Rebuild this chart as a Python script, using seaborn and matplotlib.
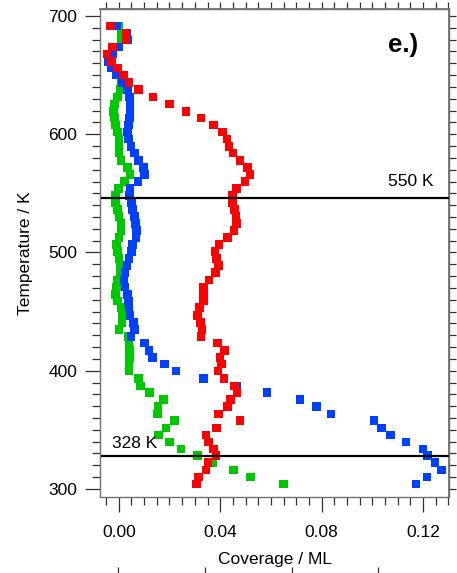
import matplotlib
matplotlib.use("Agg")
import matplotlib.pyplot as plt
import numpy as np
import pandas as pd
import seaborn as sns
from matplotlib.ticker import MultipleLocator, NullFormatter

# ---------------- data ----------------
temperature_K = [691.6, 685.6, 679.5, 673.8, 667.7, 661.4, 655.9, 650.0, 643.7, 637.6,
                 631.6, 625.5, 619.3, 613.7, 607.8, 601.9, 596.0, 589.7, 584.1, 577.9,
                 572.0, 566.1, 560.2, 554.0, 548.4, 542.4, 536.3, 530.4, 524.5, 518.6,
                 512.7, 506.8, 500.6, 494.7, 488.8, 482.9, 476.6, 470.7, 464.5, 458.9,
                 453.3, 446.8, 440.9, 435.0, 429.1, 423.5, 417.0, 411.1, 405.5, 399.6,
                 393.4, 387.2, 381.6, 375.7, 369.5, 363.5, 357.9, 351.7, 345.6, 339.7,
                 333.8, 328.1, 322.2, 316.0, 310.1, 304.2]

coverage_red = [-0.0032, 0.0028, 0.0028, -0.0025, -0.0047, -0.0028, -0.0004, 0.0018, 0.0041, 0.0077,
                0.0135, 0.0200, 0.0265, 0.0324, 0.0373, 0.0408, 0.0426, 0.0435, 0.0450, 0.0478,
                0.0507, 0.0517, 0.0497, 0.0465, 0.0449, 0.0449, 0.0456, 0.0462, 0.0465, 0.0454,
                0.0428, 0.0395, 0.0380, 0.0386, 0.0393, 0.0381, 0.0355, 0.0333, 0.0333, 0.0333,
                0.0318, 0.0311, 0.0323, 0.0328, 0.0324, 0.0389, 0.0416, 0.0399, 0.0406, 0.0391,
                0.0415, 0.0456, 0.0467, 0.0440, 0.0428, 0.0394, 0.0478, 0.0386, 0.0344, 0.0353,
                0.0373, 0.0383, 0.0351, 0.0344, 0.0315, 0.0307]

coverage_blue = [-0.0008, 0.0030, 0.0034, 0.0001, -0.0025, -0.0041, -0.0028, -0.0008, 0.0012, 0.0034,
                 0.0042, 0.0045, 0.0045, 0.0042, 0.0038, 0.0035, 0.0038, 0.0048, 0.0062, 0.0077,
                 0.0097, 0.0101, 0.0075, 0.0045, 0.0042, 0.0051, 0.0055, 0.0062, 0.0067, 0.0071,
                 0.0068, 0.0055, 0.0051, 0.0040, 0.0032, 0.0025, 0.0020, 0.0025, 0.0034, 0.0038,
                 0.0041, 0.0045, 0.0058, 0.0062, 0.0048, 0.0101, 0.0120, 0.0132, 0.0180, 0.0225,
                 0.0333, 0.0467, 0.0585, 0.0714, 0.0779, 0.0837, 0.1007, 0.1035, 0.1072, 0.1132,
                 0.1199, 0.1218, 0.1247, 0.1273, 0.1215, 0.1172]

coverage_green = [0.0001, 0.0009, 0.0009, -0.0020, -0.0040, -0.0035, -0.0020, 0.0000, 0.0009, 0.0005,
                  -0.0004, -0.0017, -0.0021, -0.0017, -0.0012, -0.0004, 0.0001, 0.0001, 0.0001, 0.0009,
                  0.0035, 0.0045, 0.0022, -0.0002, -0.0012, -0.0012, -0.0004, 0.0001, 0.0009, 0.0009,
                  0.0001, -0.0008, -0.0006, 0.0001, 0.0005, 0.0005, -0.0004, -0.0008, -0.0012, -0.0004,
                  0.0009, 0.0014, 0.0012, 0.0001, 0.0036, 0.0040, 0.0042, 0.0042, 0.0041, 0.0041,
                  0.0077, 0.0086, 0.0121, 0.0176, 0.0154, 0.0152, 0.0219, 0.0186, 0.0156, 0.0200,
                  0.0246, 0.0311, 0.0371, 0.0452, 0.0519, 0.0649]

series_names = ["green", "blue", "red"]          # drawing order: red on top
series_colors = {"green": "#00c800", "blue": "#0040ff", "red": "#ff0000"}

reference_lines = [546.0, 327.5]
reference_labels = ["550 K", "328 K"]
panel_label = "e.)"

x_ticks = [0.00, 0.04, 0.08, 0.12]
y_ticks = [300, 400, 500, 600, 700]
lower_panel_ticks = [0, 1, 2, 3]

# ---------------- build long-form table ----------------
df = pd.concat([
    pd.DataFrame({"temperature": temperature_K, "coverage": cov, "series": name})
    for name, cov in zip(series_names, [coverage_green, coverage_blue, coverage_red])
], ignore_index=True)

sns.set_theme(style="ticks")
plt.rcParams["font.family"] = ["Liberation Sans", "DejaVu Sans"]
plt.rcParams["text.color"] = "black"
plt.rcParams["axes.labelcolor"] = "black"

W, H = 457, 573
fig = plt.figure(figsize=(W / 100, H / 100), dpi=100)
ax = fig.add_axes([100 / W, 1 - 497 / H, 349 / W, 488 / H])

sns.scatterplot(data=df, x="coverage", y="temperature", hue="series",
                palette=series_colors, hue_order=series_names, marker="s",
                s=38, linewidth=0, legend=False, ax=ax)

for yv in reference_lines:
    ax.axhline(yv, color="black", lw=1.6, zorder=1)

ax.set_xlim(-0.0074, 0.1302)
ax.set_ylim(293.2, 705.9)

frame_col = "#707070"
for sp in ax.spines.values():
    sp.set_color(frame_col)
    sp.set_linewidth(1.0)

ax.set_xticks(x_ticks)
ax.set_xticklabels([f"{v:.2f}" for v in x_ticks])
ax.xaxis.set_minor_locator(MultipleLocator(0.005))
ax.set_yticks(y_ticks)
ax.yaxis.set_minor_locator(MultipleLocator(10))

ax.tick_params(axis="both", which="major", direction="out", length=11, width=0.9,
               color="#303030", labelsize=12.5, labelcolor="black")
ax.tick_params(axis="both", which="minor", direction="out", length=5.5, width=0.9,
               color="#303030")
ax.tick_params(axis="x", which="major", pad=9.5)
ax.tick_params(axis="y", which="major", pad=5.5)
ax.tick_params(top=False, right=False, which="both")

ax.set_xlabel("Coverage / ML", fontsize=12.5, labelpad=8.5)
ax.set_ylabel("Temperature / K", fontsize=12.5, labelpad=11)

# right and top tick rows (no labels)
sec_r = ax.secondary_yaxis("right")
sec_r.yaxis.set_major_locator(MultipleLocator(10))
sec_r.yaxis.set_major_formatter(NullFormatter())
sec_r.tick_params(direction="out", length=5, width=0.9, color="#303030")
sec_r.spines["right"].set_color(frame_col)

sec_t = ax.secondary_xaxis("top")
sec_t.xaxis.set_major_locator(MultipleLocator(0.005))
sec_t.xaxis.set_major_formatter(NullFormatter())
sec_t.tick_params(direction="out", length=5, width=0.9, color="#303030")
sec_t.spines["top"].set_color(frame_col)

# annotations
ax.text(0.1061, 556.5, reference_labels[0], fontsize=12.5, ha="left", va="baseline")
ax.text(-0.0028, 334.4, reference_labels[1], fontsize=12.5, ha="left", va="baseline")
ax.text(0.825, 0.912, panel_label, transform=ax.transAxes, fontsize=18.5,
        fontweight="bold", ha="left", va="baseline")

# ticks of the (cut-off) panel below
ax_low = fig.add_axes([100 / W, 1 - 575 / H - 0.3, 349 / W, 0.3])
ax_low.set_xlim(-0.211, 3.818)
ax_low.set_xticks(lower_panel_ticks)
ax_low.set_yticks([])
ax_low.patch.set_visible(False)
for sp in ax_low.spines.values():
    sp.set_visible(False)
ax_low.tick_params(axis="x", bottom=False, top=True, labelbottom=False,
                   direction="out", length=6, width=0.9, color="#303030")

fig.savefig("out.png", dpi=100)
